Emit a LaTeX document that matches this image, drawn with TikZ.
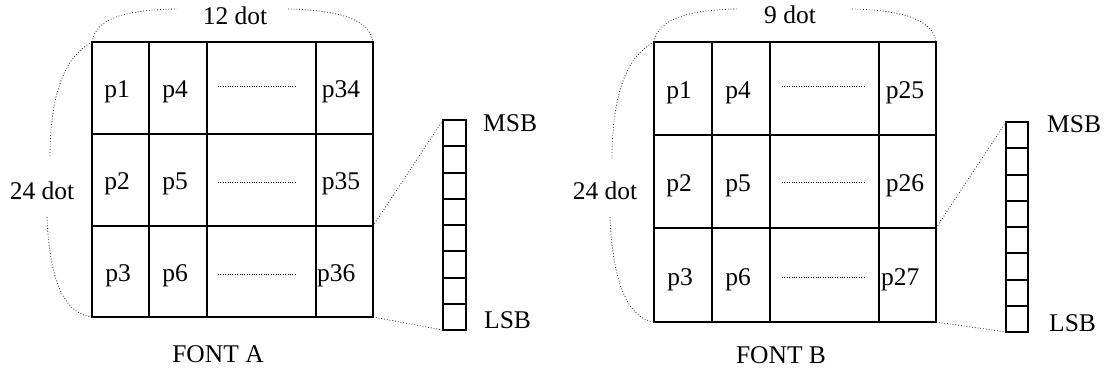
\documentclass[tikz,border=0pt]{standalone}
\usepackage{fontspec}
\setmainfont{Liberation Serif}
\begin{document}
\begin{tikzpicture}[x=1pt,y=-1pt,
  gridline/.style={line width=1.9pt},
  guide/.style={line width=0.8pt, dotted, black!85},
  celldots/.style={line width=1pt, dash pattern=on 1pt off 1.4pt},
  lbl/.style={font=\fontsize{25.5}{30}\selectfont, inner sep=0pt, anchor=base},
  lblw/.style={lbl, anchor=base west}]
\useasboundingbox (0,0) rectangle (1111,374);

% ================= FONT A =================
\coordinate (Atl) at (92,42);
\coordinate (Atr) at (373,42);
\coordinate (Abl) at (92,317);
\coordinate (Abr) at (373,317);
\coordinate (Ar2) at (373,226);
\draw[gridline] (Atl) rectangle (Abr);
\foreach \x in {149,207,316} \draw[gridline] (\x,42) -- (\x,317);
\foreach \y in {134,226} \draw[gridline] (92,\y) -- (373,\y);

\node[lbl] (a1) at (117,98) {p1};
\node[lbl] (a4) at (175,98) {p4};
\node[lbl] (a34) at (341,98) {p34};
\node[lbl] (a2) at (117,190) {p2};
\node[lbl] (a5) at (175,190) {p5};
\node[lbl] (a35) at (341,190) {p35};
\node[lbl] (a3) at (118,281) {p3};
\node[lbl] (a6) at (175,281) {p6};
\node[lblw] (a36) at (317,281) {p36};
\foreach \y in {87,183,274} \draw[celldots] (218,\y) -- (297,\y);

\node[lbl] (Aw) at (235,25) {12 dot};
\node[lbl] (Ah) at (42,200) {24 dot};
\node[lbl] (An) at (218,362) {FONT A};

\coordinate (Atop1) at (177,9);
\coordinate (Atop2) at (288,9);
\coordinate (Aleft1) at (50,158);
\coordinate (Aleft2) at (47,217);
\draw[guide] (Atl) .. controls (96,18) and (125,10) .. (Atop1);
\draw[guide] (Atop2) .. controls (340,10) and (370,20) .. (Atr);
\draw[guide] (Atl) .. controls (62,58) and (50,100) .. (Aleft1);
\draw[guide] (Aleft2) .. controls (50,290) and (68,314) .. (Abl);

% bit column A
\coordinate (Bt) at (443,120);
\coordinate (Bb) at (443,330);
\draw[gridline] (443,120) rectangle (466,330);
\foreach \yy in {146,173,199,225,251,278,304} \draw[gridline] (443,\yy) -- (466,\yy);
\node[lblw] (Amsb) at (483,132) {MSB};
\node[lblw] (Alsb) at (484,328) {LSB};
\draw[guide] (Ar2) -- (Bt);
\draw[guide] (Abr) -- (Bb);

% ================= FONT B =================
\coordinate (Ctl) at (654,42);
\coordinate (Ctr) at (936,42);
\coordinate (Cbl) at (654,322);
\coordinate (Cbr) at (936,322);
\coordinate (Cr2) at (936,228);
\draw[gridline] (Ctl) rectangle (Cbr);
\foreach \x in {712,770,879} \draw[gridline] (\x,42) -- (\x,322);
\foreach \y in {135,228} \draw[gridline] (654,\y) -- (936,\y);

\node[lbl] (c1) at (679,99) {p1};
\node[lbl] (c4) at (738,99) {p4};
\node[lbl] (c25) at (905,99) {p25};
\node[lbl] (c2) at (679,192) {p2};
\node[lbl] (c5) at (738,192) {p5};
\node[lbl] (c26) at (905,192) {p26};
\node[lbl] (c3) at (680,285) {p3};
\node[lbl] (c6) at (738,285) {p6};
\node[lblw] (c27) at (881,285) {p27};
\foreach \y in {87,183,277} \draw[celldots] (782,\y) -- (864,\y);

\node[lbl] (Cw) at (790,24) {9 dot};
\node[lbl] (Ch) at (605,200) {24 dot};
\node[lbl] (Cn) at (781,363) {FONT B};

\coordinate (Ctop1) at (738,9);
\coordinate (Ctop2) at (852,9);
\coordinate (Cleft1) at (612,160);
\coordinate (Cleft2) at (610,217);
\draw[guide] (Ctl) .. controls (658,18) and (690,10) .. (Ctop1);
\draw[guide] (Ctop2) .. controls (903,10) and (933,20) .. (Ctr);
\draw[guide] (Ctl) .. controls (624,58) and (612,100) .. (Cleft1);
\draw[guide] (Cleft2) .. controls (613,292) and (632,319) .. (Cbl);

% bit column B
\coordinate (Dt) at (1006,122);
\coordinate (Db) at (1006,332);
\draw[gridline] (1006,122) rectangle (1028,332);
\foreach \yy in {148,175,201,227,253,280,306} \draw[gridline] (1006,\yy) -- (1028,\yy);
\node[lblw] (Cmsb) at (1047,133) {MSB};
\node[lblw] (Clsb) at (1049,331) {LSB};
\draw[guide] (Cr2) -- (Dt);
\draw[guide] (Cbr) -- (Db);
\end{tikzpicture}
\end{document}
